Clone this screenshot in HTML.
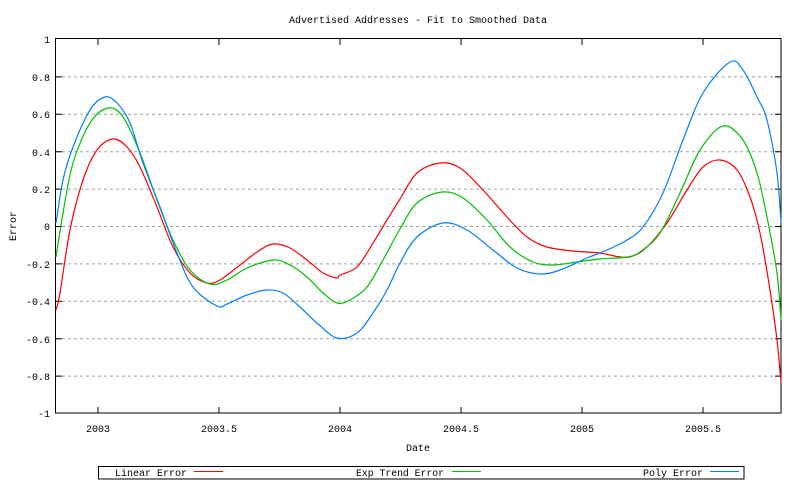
<!DOCTYPE html>
<html><head><meta charset="utf-8"><style>body{margin:0;background:#fff}svg text{font-family:"Liberation Mono","DejaVu Sans Mono",monospace;font-size:10px;fill:#000}</style></head>
<body>
<svg id="s" width="800" height="480" viewBox="0 0 800 480" xmlns="http://www.w3.org/2000/svg">
<rect width="800" height="480" fill="#fff"/>
<g stroke="#a0a0a0" stroke-dasharray="3,3" stroke-width="1">
<line x1="56" x2="781" y1="76.9" y2="76.9"/><line x1="56" x2="781" y1="114.3" y2="114.3"/>
<line x1="56" x2="781" y1="151.7" y2="151.7"/><line x1="56" x2="781" y1="189.1" y2="189.1"/>
<line x1="56" x2="781" y1="226.5" y2="226.5"/><line x1="56" x2="781" y1="263.9" y2="263.9"/>
<line x1="56" x2="781" y1="301.3" y2="301.3"/><line x1="56" x2="781" y1="338.7" y2="338.7"/>
<line x1="56" x2="781" y1="376.1" y2="376.1"/>
</g>
<g stroke="#000" stroke-width="1">
<rect x="55.5" y="38.5" width="725.5" height="374.5" fill="none"/>
<path d="M56 76.9h6M56 114.3h6M56 151.7h6M56 189.1h6M56 226.5h6M56 263.9h6M56 301.3h6M56 338.7h6M56 376.1h6M781 76.9h-6M781 114.3h-6M781 151.7h-6M781 189.1h-6M781 226.5h-6M781 263.9h-6M781 301.3h-6M781 338.7h-6M781 376.1h-6"/>
<path d="M98 413v-6M219 413v-6M340 413v-6M461 413v-6M582 413v-6M703 413v-6M98 39v6M219 39v6M340 39v6M461 39v6M582 39v6M703 39v6"/>
</g>
<g text-anchor="end">
<text x="50" y="43">1</text><text x="50" y="81">0.8</text><text x="50" y="118">0.6</text>
<text x="50" y="156">0.4</text><text x="50" y="193">0.2</text><text x="50" y="230">0</text>
<text x="50" y="268">-0.2</text><text x="50" y="305">-0.4</text><text x="50" y="343">-0.6</text>
<text x="50" y="380">-0.8</text><text x="50" y="417">-1</text>
</g>
<g text-anchor="middle">
<text x="98" y="432">2003</text><text x="219" y="432">2003.5</text><text x="340" y="432">2004</text>
<text x="461" y="432">2004.5</text><text x="582" y="432">2005</text><text x="703" y="432">2005.5</text>
<text x="418" y="451">Date</text>
<text x="418" y="23">Advertised Addresses -  Fit to Smoothed Data</text>
<text transform="translate(16,226) rotate(-90)">Error</text>
</g>
<g fill="none" stroke-width="1.2" stroke-linejoin="round" id="curves">
<polyline class="c" stroke="#ff0000" points="56,310 60,293 70,230 83,180 97,150 113,139 127,147 140,167 157,207 173,247 190,273 207,283 220,280 240,265 257,252 273,244 290,248 307,260 323,273 337,278 340,275 357,267 373,243 387,220 400,199 417,173 440,163 460,168 483,190 507,217 527,237 547,247 573,251 600,253 620,257 633,256 647,247 667,223 687,190 703,167 720,160 737,170 750,197 760,233 770,290 777,340 781,382"/>
<polyline class="c" stroke="#00c000" points="56,257 63,213 73,163 90,123 108,108 123,117 140,153 157,200 173,240 190,270 210,284 227,280 247,268 273,260 290,265 307,277 323,293 337,303 350,300 367,287 383,260 400,229 417,203 442,192 463,198 487,220 510,247 533,262 553,265 577,262 600,259 627,257 640,252 660,233 680,193 700,150 723,126 743,140 757,173 767,217 777,273 781,320"/>
<polyline class="c" stroke="#0080ff" points="56,223 63,180 73,147 90,110 105,97 117,103 130,123 143,163 160,207 177,253 193,287 217,306 227,304 247,295 267,290 283,293 300,307 317,323 337,338 357,333 373,313 387,290 400,263 417,237 443,223 467,230 493,250 517,268 540,274 560,270 587,258 607,250 627,240 643,227 663,193 683,140 703,93 730,62 743,70 757,97 767,120 777,173 781,223"/>
</g>
<rect x="98.5" y="466.5" width="645.5" height="12.5" fill="none" stroke="#000"/>
<text x="115" y="476" textLength="72" lengthAdjust="spacingAndGlyphs">Linear Error</text>
<rect x="194" y="471" width="29" height="1" fill="#ff0000"/>
<text x="356" y="476" textLength="88" lengthAdjust="spacingAndGlyphs">Exp Trend Error</text>
<rect x="452" y="471" width="29" height="1" fill="#00c000"/>
<text x="643" y="476" textLength="60" lengthAdjust="spacingAndGlyphs">Poly Error</text>
<rect x="710" y="471" width="29" height="1" fill="#0080ff"/>
</svg>
<script>
document.querySelectorAll('polyline.c').forEach(function(pl){
  var p=pl.getAttribute('points').trim().split(/\s+/).map(function(s){return s.split(',').map(Number);});
  var d='M'+p[0][0]+' '+p[0][1];
  for(var i=0;i<p.length-1;i++){
    var p0=p[i-1]||p[i],p1=p[i],p2=p[i+1],p3=p[i+2]||p2;
    var c1x=p1[0]+(p2[0]-p0[0])/6,c1y=p1[1]+(p2[1]-p0[1])/6;
    var c2x=p2[0]-(p3[0]-p1[0])/6,c2y=p2[1]-(p3[1]-p1[1])/6;
    d+=' C'+c1x.toFixed(1)+' '+c1y.toFixed(1)+' '+c2x.toFixed(1)+' '+c2y.toFixed(1)+' '+p2[0]+' '+p2[1];
  }
  var path=document.createElementNS('http://www.w3.org/2000/svg','path');
  path.setAttribute('d',d);path.setAttribute('stroke',pl.getAttribute('stroke'));
  pl.parentNode.replaceChild(path,pl);
});
</script>
</body></html>
